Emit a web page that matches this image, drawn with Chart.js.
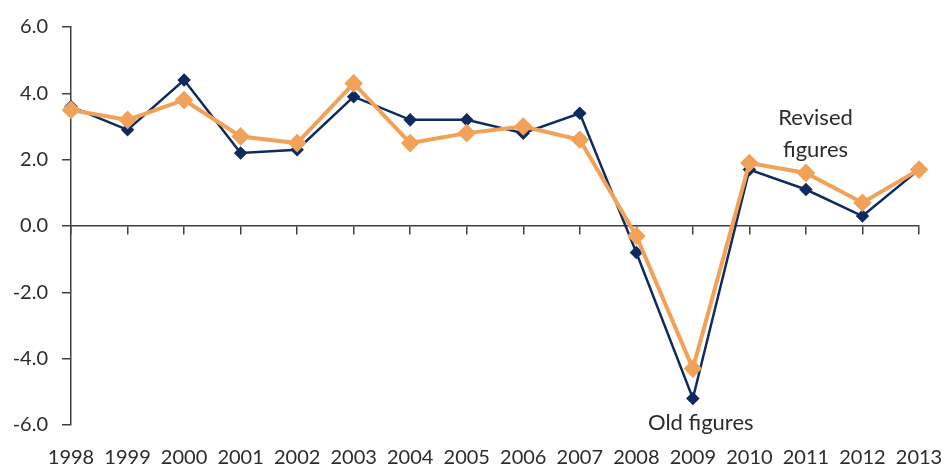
<!DOCTYPE html>
<html>
<head>
<meta charset="utf-8">
<script src="https://cdn.jsdelivr.net/npm/chart.js@4/dist/chart.umd.min.js"></script>
<style>
    html, body { margin: 0; padding: 0; background: #ffffff; }
    #wrap { width: 947px; height: 464px; }
</style>
</head>
<body>
<div id="wrap"><canvas id="growthChart"></canvas></div>
<script>
const years = ['1998', '1999', '2000', '2001', '2002', '2003', '2004', '2005',
    '2006', '2007', '2008', '2009', '2010', '2011', '2012', '2013'];
const oldFigures = [3.6, 2.9, 4.4, 2.2, 2.3, 3.9, 3.2, 3.2, 2.8, 3.4, -0.8, -5.2, 1.7, 1.1, 0.3, 1.7];
const revisedFigures = [3.5, 3.2, 3.8, 2.7, 2.5, 4.3, 2.5, 2.8, 3.0, 2.6, -0.3, -4.3, 1.9, 1.6, 0.7, 1.7];
const yTicks = [-6, -4, -2, 0, 2, 4, 6];

// text labels, placed through the scales (x = category index, y = value)
const notes = [
    {text: 'Revised', x: 13.17, y: 3.25},
    {text: 'figures', x: 13.17, y: 2.29},
    {text: 'Old figures', x: 11.14, y: -5.93}
];

const textColor = '#2b2b2b';
const axisColor = '#404040';
const fontFamily = 'Lato';

const notePlugin = {
    id: 'notes',
    afterDatasetsDraw(chart) {
        const ctx = chart.ctx;
        const xs = chart.scales.x;
        const ys = chart.scales.y;
        ctx.save();
        ctx.font = '22px ' + fontFamily;
        ctx.fillStyle = textColor;
        ctx.textAlign = 'center';
        ctx.textBaseline = 'middle';
        for (let n of notes) {
            ctx.fillText(n.text, xs.getPixelForValue(n.x), ys.getPixelForValue(n.y));
        }
        ctx.restore();
    }
};

new Chart(document.getElementById('growthChart'), {
    type: 'line',
    data: {
        labels: years,
        datasets: [
            {
                label: 'Old figures',
                data: oldFigures,
                borderColor: '#0f2a5f',
                backgroundColor: '#0f2a5f',
                borderWidth: 2.5,
                pointStyle: 'rectRot',
                pointRadius: 5,
                tension: 0,
                order: 1
            },
            {
                label: 'Revised figures',
                data: revisedFigures,
                borderColor: '#f2a258',
                backgroundColor: '#f2a258',
                borderWidth: 4,
                pointStyle: 'rectRot',
                pointRadius: 6.5,
                tension: 0,
                order: 0
            }
        ]
    },
    options: {
        responsive: true,
        maintainAspectRatio: false,
        animation: false,
        layout: {
            padding: {top: 27, right: 28, left: 0, bottom: 0}
        },
        plugins: {
            legend: {display: false},
            tooltip: {enabled: false}
        },
        scales: {
            x: {
                type: 'category',
                position: 'bottom',
                offset: false,
                grid: {display: false, drawTicks: false},
                border: {display: false},
                ticks: {
                    color: textColor,
                    padding: 21,
                    maxRotation: 0,
                    autoSkip: false,
                    font: {family: fontFamily, size: 20}
                },
                afterFit(scale) {
                    scale.height = 39;
                    scale.paddingLeft = 0;
                    scale.paddingRight = 0;
                }
            },
            x2: {
                type: 'category',
                position: {y: 0},
                offset: false,
                grid: {drawOnChartArea: false, tickLength: 8, color: axisColor, lineWidth: 1.5},
                border: {display: true, color: axisColor, width: 1.5},
                ticks: {display: false, autoSkip: false}
            },
            y: {
                min: -6,
                max: 6,
                afterBuildTicks(scale) {
                    scale.ticks = yTicks.map(v => ({value: v}));
                },
                grid: {drawOnChartArea: false, tickLength: 9, color: axisColor, lineWidth: 1.5},
                border: {display: true, color: axisColor, width: 1.5},
                ticks: {
                    color: textColor,
                    padding: 14,
                    font: {family: fontFamily, size: 20},
                    callback: v => v.toFixed(1)
                },
                afterFit(scale) {
                    scale.width = 71;
                }
            }
        }
    },
    plugins: [notePlugin]
});
</script>
</body>
</html>
